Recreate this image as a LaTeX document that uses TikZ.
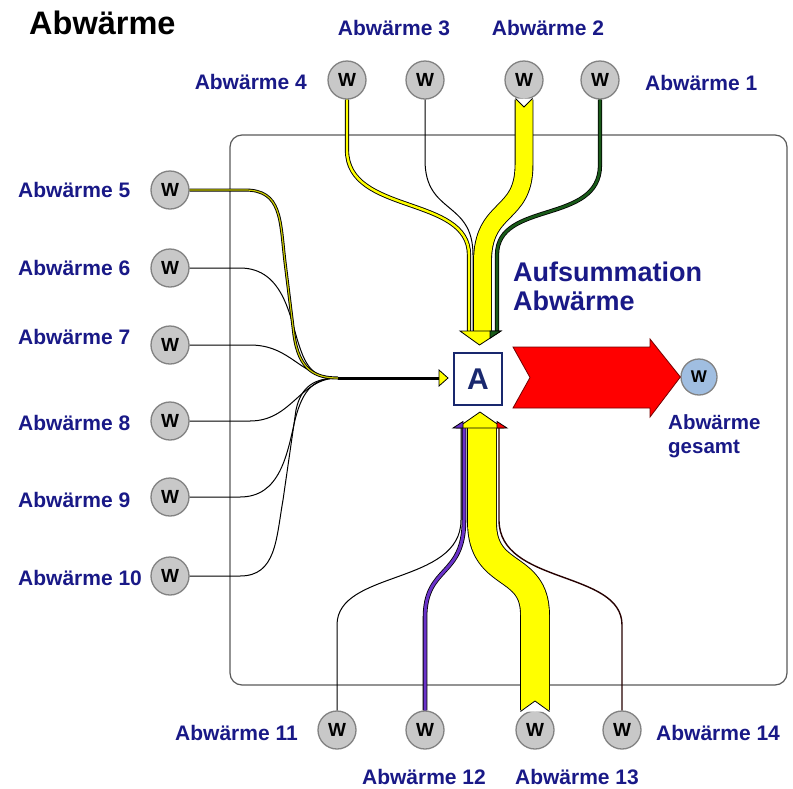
\documentclass[tikz,border=0pt]{standalone}
\usepackage{fontspec}
\setmainfont{Liberation Sans}
\definecolor{navy}{RGB}{25,25,135}
\definecolor{wfill}{RGB}{200,200,200}
\definecolor{wline}{RGB}{130,130,130}
\definecolor{bluefill}{RGB}{160,190,225}
\definecolor{dkgreen}{RGB}{25,90,25}
\definecolor{purp}{RGB}{105,50,200}
\definecolor{boxgray}{RGB}{90,90,90}
\definecolor{abox}{RGB}{25,40,110}
\definecolor{flowyellow}{RGB}{255,255,0}
\begin{document}
\begin{tikzpicture}[x=1pt,y=-1pt,
  wnode/.style={circle, draw=wline, fill=wfill, line width=1.3pt, minimum size=38pt, inner sep=0pt,
    font=\fontsize{19}{19}\selectfont\bfseries},
  lbl/.style={text=navy, inner sep=0pt, font=\fontsize{21}{23}\selectfont\bfseries},
  thinflow/.style={line width=1pt, black},
  thinyellow/.style={double=flowyellow, double distance=2.4pt, line width=0.9pt},
  thingreen/.style={double=dkgreen, double distance=2.6pt, line width=0.8pt},
  thinpurple/.style={double=purp, double distance=3pt, line width=0.8pt},
  band/.style={double=flowyellow, line width=0.9pt},
  headstyle/.style={draw=black, line width=0.8pt, line join=miter}
]
\useasboundingbox (0,0) rectangle (793,788);
\fill[white] (0,0) rectangle (793,788);

% title
\node[anchor=west, inner sep=0pt, font=\fontsize{32.5}{34}\selectfont\bfseries] (title) at (29,23) {Abwärme};

% frame
\draw[boxgray, line width=1.2pt, rounded corners=12pt] (230,135) rectangle (787,685);

% W nodes
\node[wnode] (w4) at (347,80) {W};
\node[wnode] (w3) at (425,80) {W};
\node[wnode] (w2) at (524,80) {W};
\node[wnode] (w1) at (600,80) {W};
\node[wnode] (w5) at (170,190) {W};
\node[wnode] (w6) at (170,268) {W};
\node[wnode] (w7) at (170,345) {W};
\node[wnode] (w8) at (170,421) {W};
\node[wnode] (w9) at (170,497) {W};
\node[wnode] (w10) at (170,576) {W};
\node[wnode] (w11) at (337,730) {W};
\node[wnode] (w12) at (425,730) {W};
\node[wnode] (w13) at (535,730) {W};
\node[wnode] (w14) at (622,730) {W};
\node[circle, draw=wline, fill=bluefill, line width=1.3pt, minimum size=36pt, inner sep=0pt,
  font=\fontsize{17}{17}\selectfont\bfseries] (wout) at (699,377) {W};

% A box
\node[draw=abox, line width=2.5pt, fill=white, minimum width=48pt, minimum height=52pt, inner sep=0pt,
  text=abox, font=\fontsize{30}{30}\selectfont\bfseries] (A) at (478,379) {A};

% labels
\node[lbl, anchor=east] (l4) at (307,82) {Abwärme 4};
\node[lbl] (l3) at (394,28) {Abwärme 3};
\node[lbl] (l2) at (548,28) {Abwärme 2};
\node[lbl, anchor=west] (l1) at (645,83) {Abwärme 1};
\node[lbl, anchor=west] (l5) at (18,190) {Abwärme 5};
\node[lbl, anchor=west] (l6) at (18,268) {Abwärme 6};
\node[lbl, anchor=west] (l7) at (18,337) {Abwärme 7};
\node[lbl, anchor=west] (l8) at (18,423) {Abwärme 8};
\node[lbl, anchor=west] (l9) at (18,500) {Abwärme 9};
\node[lbl, anchor=west] (l10) at (18,578) {Abwärme 10};
\node[lbl, anchor=east] (l11) at (298,733) {Abwärme 11};
\node[lbl] (l12) at (424,777) {Abwärme 12};
\node[lbl] (l13) at (577,777) {Abwärme 13};
\node[lbl, anchor=west] (l14) at (656,733) {Abwärme 14};
\node[lbl, anchor=north west, align=left, font=\fontsize{27}{29}\selectfont\bfseries] (sum) at (513,262) {Aufsummation\\Abwärme};
\node[lbl, anchor=north west, align=left, font=\fontsize{20.5}{24}\selectfont\bfseries] (gesamt) at (668,414) {Abwärme\\gesamt};

% merge coordinates
\coordinate (mleft) at (338,378);
\coordinate (lhead) at (448,378);

% ---------- top flows ----------
\draw[thinflow] (w3.south) -- (425,160) .. controls (425,215) and (473,200) .. (473,255) -- (473,331);
\draw[thinyellow] (w4.south) -- (347,150) .. controls (347,215) and (469,195) .. (469,255) -- (469,331);
\draw[thingreen] (w1.south) -- (600,165) .. controls (600,225) and (497,200) .. (497,255) -- (497,331);
\draw[band, double distance=17pt] (w2.south) -- (524,165) .. controls (524,218) and (482.5,205) .. (482.5,262) -- (482.5,331);
\fill[white] (515,98.5) -- (524,107) -- (533,98.5) -- cycle;
\draw[line width=0.8pt] (515.5,98.5) -- (524,107) -- (532.5,98.5);
\filldraw[headstyle, fill=flowyellow] (460,331) -- (501,331) -- (479.5,345) -- cycle;
\filldraw[headstyle, fill=dkgreen] (490,331) -- (501,331) -- (490,338.2) -- cycle;

% ---------- left flows ----------
\draw[thinflow] (w6.east) -- (240,268) .. controls (285,268) and (290,320) .. (300,348) .. controls (308,372) and (318,378) .. (mleft);
\draw[thinflow] (w7.east) -- (250,345) .. controls (292,345) and (300,378) .. (mleft);
\draw[thinflow] (w8.east) -- (250,421) .. controls (292,421) and (300,378) .. (mleft);
\draw[thinflow] (w9.east) -- (240,497) .. controls (280,497) and (287,455) .. (295,420) .. controls (303,388) and (315,378) .. (mleft);
\draw[thinflow] (w10.east) -- (240,576) .. controls (276,576) and (276,540) .. (283,500) -- (296,410) .. controls (301,386) and (315,378) .. (mleft);
\draw[double=flowyellow!80!black, double distance=1.2pt, line width=0.9pt] (w5.east) -- (245,190) .. controls (282,190) and (280,220) .. (285,262) -- (294,335) .. controls (299,370) and (315,378) .. (mleft);
\draw[line width=3pt, black] (mleft) -- (440,378);
\filldraw[headstyle, fill=flowyellow] (439,370) -- (lhead) -- (439,386) -- cycle;

% ---------- bottom flows ----------
\draw[thinflow] (w11.north) -- (337,625) .. controls (337,570) and (461,585) .. (461,520) -- (461,428);
\draw[thinpurple] (w12.north) -- (425,618) .. controls (425,565) and (464,578) .. (464,520) -- (464,428);
\draw[line width=1.4pt, black!85!red] (w14.north) -- (622,625) .. controls (622,570) and (499,585) .. (499,520) -- (499,428);
\draw[band, double distance=28pt] (w13.north) -- (535,615) .. controls (535,562) and (482,580) .. (482,522) -- (482,428);
\fill[white] (520,711.5) -- (535,701) -- (550,711.5) -- cycle;
\draw[line width=0.8pt] (520.5,711.5) -- (535,701) -- (549.5,711.5);
\filldraw[headstyle, fill=flowyellow] (457,428) -- (503,428) -- (480,412) -- cycle;
\filldraw[headstyle, fill=purp] (453,428) -- (463,428) -- (463,421.5) -- cycle;
\filldraw[headstyle, fill=red] (497,428) -- (507,428) -- (497,421.5) -- cycle;

% ---------- output chevron ----------
\filldraw[fill=red, draw=red!45!black, line width=0.8pt, line join=miter]
  (513,347) -- (650,347) -- (650,339) -- (wout.west) -- (650,417) -- (650,408) -- (513,408) -- (530,377.5) -- cycle;
\end{tikzpicture}
\end{document}
